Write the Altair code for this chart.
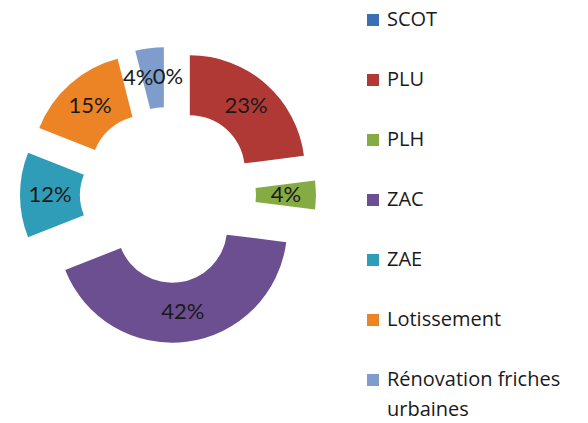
import math
import altair as alt
import pandas as pd

categories = ["SCOT", "PLU", "PLH", "ZAC", "ZAE", "Lotissement", "Rénovation friches urbaines"]
shares = [0, 23, 4, 42, 12, 15, 4]
colors = ["#3C6EB4", "#B03936", "#85AB44", "#6C4F91", "#2F9DB8", "#EC8426", "#7E9DCC"]

df = pd.DataFrame({"cat": categories, "share": shares, "order": list(range(len(categories)))})

W, H = 572, 415
CX, CY = 160, 187      # donut centre (chart pixels)
R_OUT, R_IN = 115, 55  # radii
EXPLODE = 33
LABEL_R = EXPLODE + (R_OUT + R_IN) / 2

xs = alt.Scale(domain=[0, W], range=[0, W])
ys = alt.Scale(domain=[0, H], range=[0, H])
col = alt.Color("cat:N", scale=alt.Scale(domain=categories, range=colors), legend=None)

base = (
    alt.Chart(df)
    .transform_window(cum="sum(share)", sort=[alt.SortField("order")], frame=[None, 0])
    .transform_calculate(
        start="datum.cum - datum.share",
        end="datum.cum",
        label="datum.share + '%'",
    )
    .transform_calculate(mid="(datum.start + datum.end) / 2 / 100 * 2 * PI")
    .transform_calculate(
        cx=f"{CX} + {EXPLODE} * sin(datum.mid)",
        cy=f"{CY} - {EXPLODE} * cos(datum.mid)",
        lx=f"{CX} + {LABEL_R} * sin(datum.mid)",
        ly=f"{CY} - {LABEL_R} * cos(datum.mid)",
    )
)

arcs = base.mark_arc(stroke=None).encode(
    x=alt.X("cx:Q", scale=xs, axis=None),
    y=alt.Y("cy:Q", scale=ys, axis=None),
    theta=alt.Theta("start:Q", scale=alt.Scale(domain=[0, 100], range=[0, 2 * math.pi]), stack=None),
    theta2=alt.Theta2("end:Q"),
    radius=alt.value(R_OUT),
    radius2=alt.value(R_IN),
    color=col,
)

label_enc = dict(
    x=alt.X("lx:Q", scale=xs, axis=None),
    y=alt.Y("ly:Q", scale=ys, axis=None),
    text="label:N",
)
labels = base.transform_filter(alt.datum.cat != "Rénovation friches urbaines").mark_text(
    font="Lato", fontSize=22, color="#1a1a1a", align="center", baseline="middle"
).encode(**label_enc)
labels2 = base.transform_filter(alt.datum.cat == "Rénovation friches urbaines").mark_text(
    font="Lato", fontSize=22, color="#1a1a1a", align="center", baseline="middle", dx=-15
).encode(**label_enc)

leg_y = alt.Y("cat:N", sort=categories,
              scale=alt.Scale(type="point", domain=categories, range=[12, 372], padding=0),
              axis=None)

leg_sq = alt.Chart(df).mark_square(size=144, opacity=1).encode(
    x=alt.value(365), y=leg_y, color=col
)
leg_txt = (
    alt.Chart(df)
    .transform_calculate(txt="replace(datum.cat, 'friches ', 'friches\\n')")
    .mark_text(font="Open Sans", fontSize=20, align="left", baseline="middle", color="#1a1a1a",
               lineBreak="\n", lineHeight=30)
    .encode(x=alt.value(379), y=leg_y, text="txt:N")
)

chart = (
    alt.layer(arcs, labels, labels2, leg_sq, leg_txt)
    .resolve_scale(y="independent", x="independent")
    .properties(width=W, height=H, padding=0, autosize="none", background="white")
    .configure_view(stroke=None)
)

chart.save("out.html", embed_options={"renderer": "svg", "actions": False})
